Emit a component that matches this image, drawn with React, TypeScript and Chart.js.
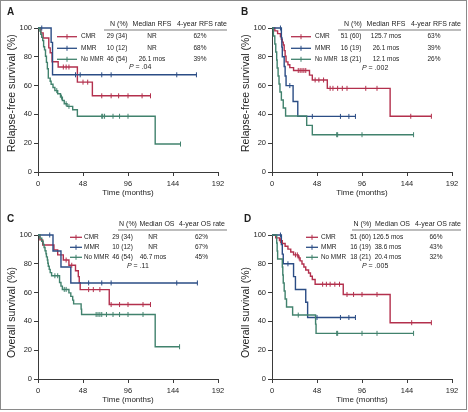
import React, { useEffect, useRef } from 'react';
import { Chart, registerables } from 'chart.js';

Chart.register(...registerables);

const FONT = '"Liberation Sans", Arial, Helvetica, sans-serif';
Chart.defaults.font.family = FONT;

// ---------- shared labels ----------
const groupLabels = ['CMR', 'MMR', 'No MMR'];
const groupColors = ['#b3304d', '#2b4d85', '#41826d'];
const xTicks = [0, 48, 96, 144, 192];
const yTicks = [0, 20, 40, 60, 80, 100];
const xTitle = 'Time (months)';
const rfsTitle = 'Relapse-free survival (%)';
const osTitle = 'Overall survival (%)';
const rfsHeaders = ['N (%)', 'Median RFS', '4-year RFS rate'];
const osHeaders = ['N (%)', 'Median OS', '4-year OS rate'];

// ---------- Panel A (RFS, cohort 1) ----------
const aCmrT = [0, 3, 5.5, 11.5, 13, 15, 21.5, 42, 58, 120];
const aCmrS = [100, 96.6, 93.1, 86.2, 82.8, 76.6, 72.9, 62.4, 52.9, 52.9];
const aCmrC = [27, 30, 33, 48, 53, 68, 78, 86, 96, 111, 120];
const aMmrT = [0, 14, 15.5, 169];
const aMmrS = [100, 90, 67.5, 67.5];
const aMmrC = [4, 40, 45, 68, 78, 148, 169];
const aNoT = [0, 2, 3, 4, 5, 6, 7, 8, 9, 10, 11, 13, 14, 16, 18, 21, 24, 26, 28, 31, 37, 42, 125, 152];
const aNoS = [100, 97.8, 95.7, 93.5, 91.3, 87.0, 84.8, 80.4, 76.1, 71.7, 65.2, 63.0, 60.9, 58.7, 56.5, 54.3, 52.0, 49.7, 47.4, 45.6, 43.2, 38.7, 19.4, 19.4];
const aNoC = [20, 25, 30, 33, 68, 69, 71, 80, 87, 96, 152];
const aN = ['29 (34)', '10 (12)', '46 (54)'];
const aMedian = ['NR', 'NR', '26.1 mos'];
const aRate = ['62%', '68%', '39%'];
const aP = '.04';

// ---------- Panel B (RFS, cohort 2) ----------
const bCmrT = [0, 3, 6, 9, 10, 11, 12, 13, 14, 15, 17, 19, 23, 40, 43, 59, 126, 170];
const bCmrS = [100, 98.0, 96.1, 94.1, 92.2, 90.2, 88.2, 84.3, 80.4, 76.5, 74.5, 72.5, 70.5, 67.3, 63.9, 58.1, 38.7, 38.7];
const bCmrC = [28, 30, 32, 34, 36, 46, 50, 55, 62, 65, 70, 75, 80, 100, 112, 148, 170];
const bMmrT = [0, 10, 10.5, 11, 13, 14, 15, 22.5, 27.5, 89];
const bMmrS = [100, 93.3, 86.7, 80.0, 73.3, 66.7, 60.0, 49.0, 38.6, 38.6];
const bMmrC = [9, 19, 43, 73, 82, 89];
const bNoT = [0, 1.5, 3, 4, 5, 5.5, 6.5, 7.5, 8.5, 10, 12, 14.5, 37, 43, 151];
const bNoS = [100, 94.4, 88.9, 83.3, 77.8, 72.2, 66.7, 61.1, 55.6, 50.0, 44.4, 38.9, 32.4, 25.9, 25.9];
const bNoC = [69, 70, 96, 151];
const bN = ['51 (60)', '16 (19)', '18 (21)'];
const bMedian = ['125.7 mos', '26.1 mos', '12.1 mos'];
const bRate = ['63%', '39%', '26%'];
const bP = '.002';

// ---------- Panel C (OS, cohort 1) ----------
const cCmrT = [0, 2, 5, 17, 21, 27, 33, 40, 43, 44, 45, 76, 120];
const cCmrS = [100, 96.6, 93.1, 89.7, 86.2, 82.6, 79.0, 75.2, 71.1, 66.9, 62.1, 51.7, 51.7];
const cCmrC = [30, 36, 54, 59, 66, 78, 87, 96, 112, 120];
const cMmrT = [0, 16, 24.5, 35, 170];
const cMmrS = [100, 88.9, 77.8, 66.7, 66.7];
const cMmrC = [12.5, 54, 68, 78, 148, 170];
const cNoT = [0, 2, 4, 5.5, 6.5, 7.5, 8.5, 9, 10, 10.5, 11, 12, 13, 14.5, 23, 24.5, 26, 33, 35, 37, 38, 46, 46.5, 125, 151];
const cNoS = [100, 97.8, 95.7, 93.5, 91.3, 89.1, 87.0, 84.8, 82.6, 80.4, 78.3, 76.1, 73.9, 71.7, 67.0, 64.5, 62.2, 59.8, 57.4, 54.8, 52.2, 48.5, 44.8, 22.4, 22.4];
const cNoC = [18, 21, 28, 30, 62, 64, 66, 68, 73, 80, 87, 96, 112, 151];
const cN = ['29 (34)', '10 (12)', '46 (54)'];
const cMedian = ['NR', 'NR', '46.7 mos'];
const cRate = ['62%', '67%', '45%'];
const cP = '.11';

// ---------- Panel D (OS, cohort 2) ----------
const dCmrT = [0, 4, 8, 11, 14, 17, 20, 23, 28, 30, 32, 34, 36, 39, 41, 43, 46, 76, 126, 170];
const dCmrS = [100, 98.0, 96.1, 94.1, 92.2, 90.2, 88.2, 86.2, 84.1, 82.0, 79.9, 77.8, 75.7, 73.6, 71.4, 69.1, 65.8, 58.7, 39.1, 39.1];
const dCmrC = [9, 25, 27, 29, 54, 58, 62, 67, 72, 80, 87, 96, 112, 149, 170];
const dMmrT = [0, 10, 11, 12, 23, 25, 36, 38, 89];
const dMmrS = [100, 93.3, 86.7, 80.0, 71.1, 62.2, 53.3, 42.7, 42.7];
const dMmrC = [9, 17, 48, 73, 82, 89];
const dNoT = [0, 5, 5.5, 6, 11, 11.5, 12, 13, 14, 15.5, 22, 46.5, 47, 151];
const dNoS = [100, 94.4, 88.9, 83.3, 77.8, 72.2, 66.7, 61.1, 55.6, 50.0, 44.4, 38.1, 31.7, 31.7];
const dNoC = [28, 69, 70, 96, 112, 151];
const dN = ['51 (60)', '16 (19)', '18 (21)'];
const dMedian = ['126.5 mos', '38.6 mos', '20.4 mos'];
const dRate = ['66%', '43%', '32%'];
const dP = '.005';

type Curve = { t: number[]; s: number[]; c: number[] };
type Layout = {
  letterX: number; letterY: number;
  headerX: number[]; headerY: number;
  ulY: number; ulX: number[];
  rowY: number[]; lineX: number[]; labelX: number; labelW: number;
  colX: number[]; pX: number; pY: number;
  top: number; xh: number; xTitlePad: number;
};
type PanelDef = {
  letter: string; yTitle: string; headers: string[];
  curves: Curve[]; n: string[]; median: string[]; rate: string[]; p: string;
  layout: Layout;
};

const layoutAB = (pX: number, pY: number): Layout => ({
  letterX: 7, letterY: 12.5,
  headerX: [119, 152, 202], headerY: 24.3,
  ulY: 30, ulX: [104, 227],
  rowY: [36.7, 48.3, 59.3], lineX: [57, 77], labelX: 81, labelW: 22.5,
  colX: [117, 152, 200], pX, pY,
  top: 28, xh: 34, xTitlePad: 8,
});

const panels: PanelDef[] = [
  {
    letter: 'A', yTitle: rfsTitle, headers: rfsHeaders,
    curves: [{ t: aCmrT, s: aCmrS, c: aCmrC }, { t: aMmrT, s: aMmrS, c: aMmrC }, { t: aNoT, s: aNoS, c: aNoC }],
    n: aN, median: aMedian, rate: aRate, p: aP,
    layout: layoutAB(129, 67.5),
  },
  {
    letter: 'B', yTitle: rfsTitle, headers: rfsHeaders,
    curves: [{ t: bCmrT, s: bCmrS, c: bCmrC }, { t: bMmrT, s: bMmrS, c: bMmrC }, { t: bNoT, s: bNoS, c: bNoC }],
    n: bN, median: bMedian, rate: bRate, p: bP,
    layout: layoutAB(128, 68.3),
  },
  {
    letter: 'C', yTitle: osTitle, headers: osHeaders,
    curves: [{ t: cCmrT, s: cCmrS, c: cCmrC }, { t: cMmrT, s: cMmrS, c: cMmrC }, { t: cNoT, s: cNoS, c: cNoC }],
    n: cN, median: cMedian, rate: cRate, p: cP,
    layout: {
      letterX: 7, letterY: 13,
      headerX: [128, 157, 202], headerY: 18,
      ulY: 24, ulX: [118, 227],
      rowY: [31.3, 41.3, 51.3], lineX: [70, 82], labelX: 84, labelW: 25,
      colX: [122.5, 153, 201.5], pX: 127, pY: 60,
      top: 29, xh: 33, xTitlePad: 7,
    },
  },
  {
    letter: 'D', yTitle: osTitle, headers: osHeaders,
    curves: [{ t: dCmrT, s: dCmrS, c: dCmrC }, { t: dMmrT, s: dMmrS, c: dMmrC }, { t: dNoT, s: dNoS, c: dNoC }],
    n: dN, median: dMedian, rate: dRate, p: dP,
    layout: {
      letterX: 10, letterY: 13,
      headerX: [128.5, 158.5, 204], headerY: 18,
      ulY: 24, ulX: [118, 227],
      rowY: [31.3, 41.3, 51.3], lineX: [72, 84], labelX: 87, labelW: 25,
      colX: [126.5, 154, 202], pX: 128, pY: 60.5,
      top: 29, xh: 33, xTitlePad: 7,
    },
  },
];

function survAt(times: number[], surv: number[], t: number): number {
  let v = surv[0];
  for (let i = 0; i < times.length; i++) if (times[i] <= t) v = surv[i];
  return v;
}

const TEXT = '#1e1e1e';
const AXIS = '#3a3a3a';

function makePlugin(def: PanelDef) {
  const L = def.layout;
  return {
    id: 'panelText' + def.letter,
    afterDraw(chart: any) {
      const ctx: CanvasRenderingContext2D = chart.ctx;
      ctx.save();
      ctx.fillStyle = TEXT;
      ctx.textBaseline = 'middle';
      // panel letter
      ctx.font = `bold 10px ${FONT}`;
      ctx.textAlign = 'left';
      ctx.fillText(def.letter, L.letterX, L.letterY);
      // header
      ctx.font = `7px ${FONT}`;
      ctx.textAlign = 'center';
      def.headers.forEach((h, i) => ctx.fillText(h, L.headerX[i], L.headerY));
      ctx.strokeStyle = '#444';
      ctx.lineWidth = 0.7;
      ctx.beginPath();
      ctx.moveTo(L.ulX[0], L.ulY);
      ctx.lineTo(L.ulX[1], L.ulY);
      ctx.stroke();
      // rows
      groupLabels.forEach((lab, i) => {
        const y = L.rowY[i];
        ctx.strokeStyle = groupColors[i];
        ctx.lineWidth = 1.3;
        ctx.beginPath();
        ctx.moveTo(L.lineX[0], y);
        ctx.lineTo(L.lineX[1], y);
        ctx.stroke();
        const mx = (L.lineX[0] + L.lineX[1]) / 2;
        ctx.lineWidth = 1;
        ctx.beginPath();
        ctx.moveTo(mx, y - 2.5);
        ctx.lineTo(mx, y + 2.5);
        ctx.stroke();
        ctx.fillStyle = TEXT;
        ctx.font = `6.5px ${FONT}`;
        ctx.textAlign = 'left';
        ctx.fillText(lab, L.labelX, y, L.labelW);
        ctx.textAlign = 'center';
        ctx.fillText(def.n[i], L.colX[0], y);
        ctx.fillText(def.median[i], L.colX[1], y);
        ctx.fillText(def.rate[i], L.colX[2], y);
      });
      // P value
      ctx.textAlign = 'left';
      ctx.font = `italic 7px ${FONT}`;
      ctx.fillText('P', L.pX, L.pY);
      const pw = ctx.measureText('P').width;
      ctx.font = `7px ${FONT}`;
      ctx.fillText(' = ' + def.p, L.pX + pw, L.pY);
      // y title
      ctx.save();
      ctx.translate(12, 152);
      ctx.rotate(-Math.PI / 2);
      ctx.font = `10.5px ${FONT}`;
      ctx.textAlign = 'left';
      ctx.fillText(def.yTitle, 0, 0);
      ctx.restore();
      ctx.restore();
    },
  };
}

function buildConfig(def: PanelDef): any {
  const L = def.layout;
  const datasets: any[] = [];
  def.curves.forEach((cv, i) => {
    datasets.push({
      type: 'line',
      label: groupLabels[i],
      data: cv.t.map((t, k) => ({ x: t, y: cv.s[k] })),
      stepped: 'before',
      borderColor: groupColors[i],
      borderWidth: 1.4,
      pointRadius: 0,
      fill: false,
      clip: 6,
      order: 3 - i,
    });
  });
  def.curves.forEach((cv, i) => {
    datasets.push({
      type: 'line',
      label: groupLabels[i] + ' censored',
      data: cv.c.map((t) => ({ x: t, y: survAt(cv.t, cv.s, t) })),
      showLine: false,
      pointStyle: 'line',
      pointRotation: 90,
      pointRadius: 2.5,
      pointHoverRadius: 0,
      pointBorderColor: groupColors[i],
      pointBackgroundColor: groupColors[i],
      pointBorderWidth: 1,
      clip: 6,
      order: 0,
    });
  });
  return {
    type: 'line',
    data: { datasets },
    options: {
      animation: false,
      responsive: false,
      devicePixelRatio: 1,
      events: [],
      layout: { padding: { top: L.top, right: 16, left: 0, bottom: 0 } },
      plugins: { legend: { display: false }, tooltip: { enabled: false } },
      scales: {
        x: {
          type: 'linear',
          min: 0,
          max: 192,
          afterBuildTicks: (s: any) => { s.ticks = xTicks.map((v) => ({ value: v })); },
          afterFit: (s: any) => { s.height = L.xh; },
          grid: { display: true, drawOnChartArea: false, drawTicks: true, tickLength: 4, color: AXIS, lineWidth: 1 },
          border: { display: true, color: AXIS, width: 1 },
          ticks: { color: TEXT, font: { size: 7.5, family: FONT }, padding: 3, maxRotation: 0 },
          title: { display: true, text: xTitle, color: TEXT, font: { size: 8, family: FONT }, padding: { top: 0, bottom: L.xTitlePad } },
        },
        y: {
          type: 'linear',
          min: 0,
          max: 100,
          afterBuildTicks: (s: any) => { s.ticks = yTicks.map((v) => ({ value: v })); },
          afterFit: (s: any) => { s.width = 38; },
          grid: { display: true, drawOnChartArea: false, drawTicks: true, tickLength: 4, color: AXIS, lineWidth: 1 },
          border: { display: true, color: AXIS, width: 1 },
          ticks: { color: TEXT, font: { size: 7.5, family: FONT }, padding: 2 },
        },
      },
    },
    plugins: [makePlugin(def)],
  };
}

function Panel({ def, left, top }: { def: PanelDef; left: number; top: number }) {
  const ref = useRef<HTMLCanvasElement>(null);
  useEffect(() => {
    const canvas = ref.current;
    if (!canvas) return;
    const chart = new Chart(canvas, buildConfig(def));
    return () => chart.destroy();
  }, [def]);
  return (
    <canvas
      ref={ref}
      width={234}
      height={206}
      style={{ position: 'absolute', left, top, width: 234, height: 206, display: 'block' }}
    />
  );
}

export default function App() {
  return (
    <div style={{ position: 'absolute', left: 0, top: 0, width: 468, height: 412, background: '#fff', overflow: 'hidden' }}>
      <Panel def={panels[0]} left={0} top={0} />
      <Panel def={panels[1]} left={234} top={0} />
      <Panel def={panels[2]} left={0} top={206} />
      <Panel def={panels[3]} left={234} top={206} />
      <div
        style={{
          position: 'absolute', left: 0, top: 0, width: 467, height: 410,
          boxSizing: 'border-box', border: '1px solid #8a8a8a', pointerEvents: 'none',
        }}
      />
    </div>
  );
}
